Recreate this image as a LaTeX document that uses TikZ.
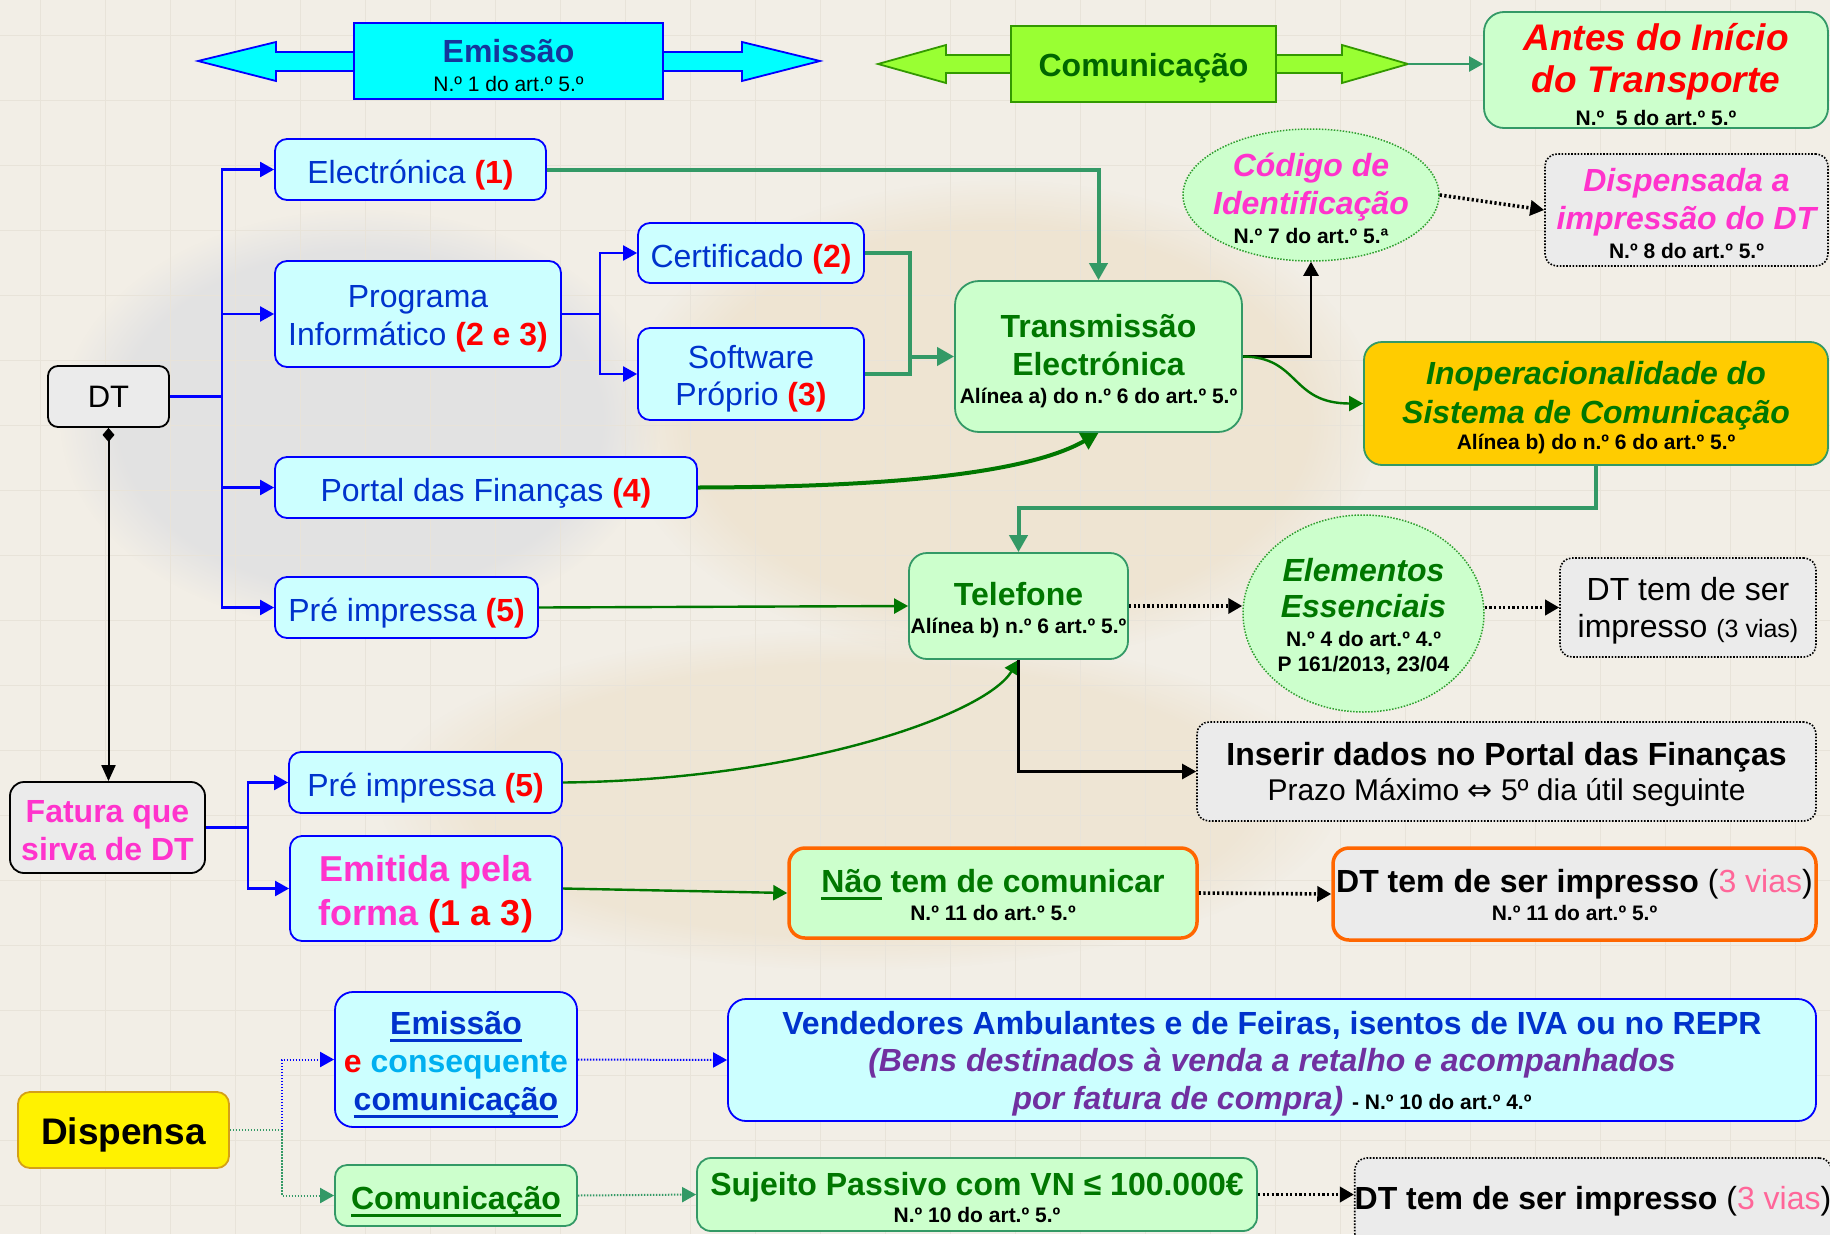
\documentclass[tikz,border=0pt]{standalone}
\usepackage{fontspec}
\setmainfont{Liberation Sans}
\newfontfamily\arrowsymfont{DejaVu Sans}
\usetikzlibrary{arrows.meta,shapes.geometric,fadings}

\definecolor{paper}{HTML}{F2EEE6}
\definecolor{gridtone}{HTML}{E8E3D9}
\definecolor{washblue}{HTML}{C5CCDC}
\definecolor{washwarm}{HTML}{E8D5B4}
\definecolor{bluetxt}{HTML}{0033CC}
\definecolor{navytxt}{HTML}{16369A}
\definecolor{aqua}{HTML}{00FFFF}
\definecolor{cyanfill}{HTML}{CCFFFF}
\definecolor{greenfill}{HTML}{CCFFCC}
\definecolor{greenline}{HTML}{339966}
\definecolor{darkgreen}{HTML}{007700}
\definecolor{deepgreen}{HTML}{006600}
\definecolor{magentatxt}{HTML}{FF33CC}
\definecolor{grayfill}{HTML}{EBEBEB}
\definecolor{orangeline}{HTML}{FF6600}
\definecolor{goldfill}{HTML}{FFCC00}
\definecolor{purpletxt}{HTML}{7030A0}
\definecolor{skytxt}{HTML}{00B0F0}
\definecolor{pinktxt}{HTML}{FF6699}
\definecolor{limefill}{HTML}{99FF33}
\definecolor{limeline}{HTML}{339900}
\definecolor{yellowline}{HTML}{D4A017}
\definecolor{ovalline}{HTML}{2E9E2E}

\newcommand\fs[2]{\fontsize{#1}{#2}\selectfont}
\newcommand\rd[1]{\textcolor{red}{\bfseries #1}}
\newcommand\artref{\fs{21}{25}\bfseries\upshape\color{black}}
% invisible strut that lowers a node's text block
\newcommand\pad[1]{\rule{0pt}{#1}}
% thick underline drawn in the current text colour
\newcommand\uln[1]{\setbox0=\hbox{#1}\rlap{\vrule height -4.5pt depth 7.5pt width \wd0}\box0\relax}

\begin{document}
\begin{tikzpicture}[x=1pt,y=-1pt,
  rbox/.style={rectangle, rounded corners=12pt, inner sep=0pt, align=center, line width=1.8pt},
  bluebox/.style={rbox, draw=blue, fill=cyanfill, text=bluetxt, font=\fs{32}{38}},
  greenbox/.style={rbox, rounded corners=18pt, draw=greenline, fill=greenfill, text=darkgreen, font=\fs{32}{38}\bfseries},
  graybox/.style={rbox, draw=black, fill=grayfill, text=black},
  dotbox/.style={rbox, draw=black, fill=grayfill, text=black, line width=1.6pt, dash pattern=on 1.6pt off 1.6pt},
  orangebox/.style={rbox, rounded corners=16pt, draw=orangeline, line width=3.5pt, font=\fs{32}{38}\bfseries},
  dotoval/.style={ellipse, draw=ovalline, fill=greenfill, line width=1.5pt, dash pattern=on 1.5pt off 1.5pt, inner sep=0pt},
  headtip/.style={-{Triangle[length=14pt,width=15pt]}},
  bigtip/.style={-{Triangle[length=17pt,width=18pt]}},
  bluelink/.style={draw=blue, line width=2.2pt},
  bluearrow/.style={bluelink, headtip},
  greenthick/.style={draw=greenline, line width=4pt},
  greenthickarrow/.style={greenthick, bigtip},
  curvearrow/.style={draw=darkgreen, line width=4pt, bigtip},
  thinarrow/.style={draw=darkgreen, line width=2.4pt, headtip},
  blackarrow/.style={draw=black, line width=2.4pt, headtip},
  dotarrow/.style={draw=black, line width=3.6pt, dash pattern=on 2.2pt off 2.4pt, headtip},
  bluedot/.style={draw=blue, line width=2pt, dash pattern=on 1.5pt off 1.5pt},
  tealdot/.style={draw=greenline, line width=2pt, dash pattern=on 1.5pt off 1.5pt},
  wash/.style={path fading=circle with fuzzy edge 20 percent, fit fading=true}
]
\useasboundingbox (0,0) rectangle (1830,1234);
\clip (0,0) rectangle (1830,1234);

% paper, faint squared ruling and faded backdrop
\fill[paper] (0,0) rectangle (1830,1234);
\fill[washblue, opacity=.35, wash] (360,420) ellipse (300 and 210);
\fill[washwarm, opacity=.40, wash] (1000,420) ellipse (380 and 240);
\fill[washwarm, opacity=.35, wash] (860,800) ellipse (480 and 170);
\foreach \gx in {40,105,...,1830} \draw[gridtone, line width=1pt] (\gx,0) -- (\gx,1234);
\foreach \gy in {35,100,...,1234} \draw[gridtone, line width=1pt] (0,\gy) -- (1830,\gy);

% ---- header double arrows ----
\filldraw[fill=aqua, draw=blue, line width=1.8pt]
  (354,52) -- (276,52) -- (276,42) -- (198,61) -- (276,81) -- (276,71) -- (354,71)
  -- (663,71) -- (742,71) -- (742,81) -- (820,61) -- (742,42) -- (742,52) -- (663,52) -- cycle;
\node[rectangle, draw=blue, fill=aqua, line width=1.8pt, minimum width=309pt, minimum height=76pt,
      inner sep=0pt, align=center, font=\fs{32}{36}] (emis) at (508.5,61)
  {\pad{32pt}\bfseries\color{navytxt}Emissão\\[-7pt]\fs{21}{25}\mdseries\color{black}N.º 1 do art.º 5.º};

\filldraw[fill=limefill, draw=limeline, line width=1.8pt]
  (1011,55) -- (946,55) -- (946,45) -- (878,64) -- (946,83) -- (946,73) -- (1011,73)
  -- (1276,73) -- (1342,73) -- (1342,83) -- (1408,64) -- (1342,45) -- (1342,55) -- (1276,55) -- cycle;
\node[rectangle, draw=limeline, fill=limefill, line width=1.8pt, minimum width=265pt, minimum height=76pt,
      inner sep=0pt, font=\fs{32}{36}\bfseries, text=deepgreen] (com) at (1143.5,64) {\pad{32pt}Comunicação};
\coordinate (comtip) at (1408,64);

% ---- right column ----
\node[greenbox, rounded corners=20pt, minimum width=344pt, minimum height=116pt, text=red,
      font=\fs{37}{42}\bfseries\itshape] (antes) at (1656,70)
  {\pad{36.5pt}Antes do Início\\do Transporte\\[-9pt]\artref N.º~ 5 do art.º 5.º};

\node[dotoval, minimum width=256pt, minimum height=132pt] (codigo) at (1311,195) {};
\node[align=center, inner sep=0pt, text=magentatxt, font=\fs{32}{38}\bfseries\itshape] (codigotxt) at (1311,195)
  {\pad{30pt}Código de\\Identificação\\[-9pt]\artref N.º 7 do art.º 5.ª};

\node[dotbox, minimum width=283pt, minimum height=112pt, text=magentatxt, font=\fs{32}{38}\bfseries\itshape]
  (dispensada) at (1686.5,210) {\pad{31pt}Dispensada a\\impressão do DT\\[-9pt]\artref N.º 8 do art.º 5.º};

\node[greenbox, rounded corners=24pt, minimum width=287pt, minimum height=151pt] (trans) at (1098.5,356.5)
  {\pad{33pt}Transmissão\\Electrónica\\[-10pt]\artref Alínea a) do n.º 6 do art.º 5.º};

\node[rbox, rounded corners=18pt, draw=greenline, fill=goldfill, text=darkgreen, minimum width=464pt,
      minimum height=123pt, font=\fs{32}{39}\bfseries\itshape] (inop) at (1596,403.5)
  {\pad{31pt}Inoperacionalidade do\\Sistema de Comunicação\\[-13pt]\artref Alínea b) do n.º 6 do art.º 5.º};

\node[greenbox, minimum width=219pt, minimum height=106pt] (tel) at (1018.5,606)
  {\pad{32pt}Telefone\\[-10pt]\artref Alínea b) n.º 6 art.º 5.º};

\node[dotoval, minimum width=241pt, minimum height=197pt] (elem) at (1363.5,613.5) {};
\node[align=center, inner sep=0pt, text=darkgreen, font=\fs{32}{36}\bfseries\itshape] (elemtxt) at (1363.5,613.5)
  {\pad{30pt}Elementos\\Essenciais\\[-7pt]\artref N.º 4 do art.º 4.º\\[-11pt]\artref P 161/2013, 23/04};

\node[dotbox, minimum width=256pt, minimum height=99pt, font=\fs{32}{37}] (dtone) at (1688,607.5)
  {\pad{30pt}DT tem de ser\\impresso {\fs{25}{37}(3 vias)}};

\node[dotbox, minimum width=619pt, minimum height=99pt, font=\fs{32}{35}\bfseries] (inserir) at (1506.5,771.5)
  {\pad{29pt}Inserir dados no Portal das Finanças\\\fs{30}{35}\mdseries Prazo Máximo {\arrowsymfont ⇔} 5º dia útil seguinte};

\node[orangebox, fill=greenfill, text=darkgreen, minimum width=408pt, minimum height=90pt] (nao) at (993,893)
  {\pad{27pt}\uln{Não} tem de comunicar\\[-10pt]\artref N.º 11 do art.º 5.º};

\node[orangebox, fill=grayfill, text=black, minimum width=483pt, minimum height=92pt] (dttwo) at (1574.5,894)
  {\pad{26pt}DT tem de ser impresso {\mdseries(\textcolor{pinktxt}{3 vias})}\\[-10pt]\artref N.º 11 do art.º 5.º};

% ---- left column ----
\node[graybox, rounded corners=10pt, minimum width=121pt, minimum height=61pt, font=\fs{31}{36}] (dt) at (108.5,396.5) {DT};

\node[bluebox, minimum width=271pt, minimum height=61pt] (elec) at (410.5,169.5) {\pad{35pt}Electrónica \rd{(1)}};
\node[bluebox, minimum width=286pt, minimum height=106pt] (prog) at (418,314) {\pad{32pt}Programa\\Informático \rd{(2 e 3)}};
\node[bluebox, minimum width=226pt, minimum height=60pt] (cert) at (751,253) {\pad{35pt}Certificado \rd{(2)}};
\node[bluebox, minimum width=226pt, minimum height=92pt, font=\fs{32}{37}] (soft) at (751,374) {\pad{33pt}Software\\Próprio \rd{(3)}};
\node[bluebox, minimum width=422pt, minimum height=61pt] (portal) at (486,487.5) {\pad{35pt}Portal das Finanças \rd{(4)}};
\node[bluebox, minimum width=263pt, minimum height=61pt] (preone) at (406.5,607.5) {\pad{35pt}Pré impressa \rd{(5)}};

\node[graybox, rounded corners=14pt, minimum width=195pt, minimum height=91pt, text=magentatxt,
      font=\fs{32}{38}\bfseries] (fatura) at (107.5,827.5) {\pad{27.5pt}Fatura que\\sirva de DT};
\node[bluebox, minimum width=273pt, minimum height=61pt] (pretwo) at (425.5,782.5) {\pad{35pt}Pré impressa \rd{(5)}};
\node[bluebox, minimum width=272pt, minimum height=105pt, text=magentatxt, font=\fs{36}{44}\bfseries]
  (emit) at (426,888.5) {\pad{38pt}Emitida pela\\forma \rd{(1 a 3)}};

% ---- exemption block ----
\node[rbox, draw=yellowline, fill=yellow, minimum width=211pt, minimum height=76pt, font=\fs{37}{40}\bfseries]
  (disp) at (123.5,1130) {\pad{36pt}Dispensa};
\node[bluebox, rounded corners=18pt, minimum width=242pt, minimum height=135pt, font=\fs{32}{38}\bfseries]
  (emistwo) at (456,1059.5) {\pad{33pt}\uln{Emissão}\\{\color{red}e} {\color{skytxt}consequente}\\\uln{comunicação}};
\node[bluebox, rounded corners=18pt, minimum width=1088pt, minimum height=122pt, font=\fs{32}{37.5}\bfseries]
  (vend) at (1272,1060)
  {\pad{30pt}Vendedores Ambulantes e de Feiras, isentos de IVA ou no REPR\\
   {\color{purpletxt}\itshape(Bens destinados à venda a retalho e acompanhados}\\
   {\color{purpletxt}\itshape por fatura de compra)} {\fs{21}{37}\color{black}- N.º 10 do art.º 4.º}};
\node[greenbox, rounded corners=12pt, minimum width=242pt, minimum height=61pt] (comb) at (456,1195.5)
  {\pad{35pt}\uln{Comunicação}};
\node[greenbox, rounded corners=14pt, minimum width=560pt, minimum height=73pt] (suj) at (977,1194.5)
  {\pad{30pt}Sujeito Passivo com VN ≤ 100.000€\\[-11pt]\artref N.º 10 do art.º 5.º};
\node[dotbox, minimum width=470pt, minimum height=87pt, font=\fs{32}{38}\bfseries] (dtthree) at (1593,1201.5)
  {DT tem de ser impresso {\mdseries(\textcolor{pinktxt}{3 vias})}};

% ---- connectors ----
\draw[greenline, line width=2.4pt, headtip] (comtip) -- (comtip -| antes.west);

\draw[bluelink] (dt.east) -- (222,396.5) coordinate (dtj);
\draw[bluearrow] (dtj) |- (elec.west);
\draw[bluearrow] (dtj) |- (prog.west);
\draw[bluearrow] (dtj) |- (portal.west);
\draw[bluearrow] (dtj) |- (preone.west);

\draw[bluelink] (prog.east) -- (600,314) coordinate (pj);
\draw[bluearrow] (pj) |- (cert.west);
\draw[bluearrow] (pj) |- (soft.west);

\coordinate (gj) at (910,356.5);
\draw[greenthick] (cert.east) -| (gj) |- (soft.east);
\draw[greenthickarrow] (gj) -- (trans.west);
\draw[greenthickarrow] (elec.east) -| (trans.north);
\draw[curvearrow] (portal.east) .. controls (900,487) and (1030,472) .. (trans.south);
\draw[thinarrow] (preone.east) -- (tel.west);

\draw[blackarrow] (trans.east) -| (codigo.south);
\draw[thinarrow] (trans.east) .. controls (1300,357) and (1290,403.5) .. (inop.west);
\draw[dotarrow] (codigo.east) -- (dispensada.west);

\coordinate (itj) at (1596,508);
\draw[greenthickarrow] (inop.south) -- (itj) -| (tel.north);

\draw[dotarrow] (tel.east) -- (tel.east -| elem.west);
\draw[dotarrow] (dtone.west -| elem.east) -- (dtone.west);
\draw[thinarrow] (pretwo.east) .. controls (800,780) and (985,715) .. (tel.south);
\draw[blackarrow] (tel.south) |- (inserir.west);

\draw[draw=black, line width=2pt, {Diamond[length=14pt,width=12pt]}-{Triangle[length=16pt,width=14pt]}]
  (dt.south) -- (dt.south |- fatura.north);

\draw[bluelink] (fatura.east) -- (248,827.5) coordinate (fj);
\draw[bluearrow] (fj) |- (pretwo.west);
\draw[bluearrow] (fj) |- (emit.west);
\draw[thinarrow] (emit.east) -- (nao.west);
\draw[dotarrow] (nao.east) -- (dttwo.west);

\draw[tealdot] (disp.east) -- (282,1130) coordinate (dj);
\draw[bluedot, headtip] (dj) |- (emistwo.west);
\draw[tealdot, headtip] (dj) |- (comb.west);
\draw[bluedot, headtip] (emistwo.east) -- (vend.west);
\draw[tealdot, headtip] (comb.east) -- (suj.west);
\draw[dotarrow] (suj.east) -- (suj.east -| dtthree.west);
\end{tikzpicture}
\end{document}
